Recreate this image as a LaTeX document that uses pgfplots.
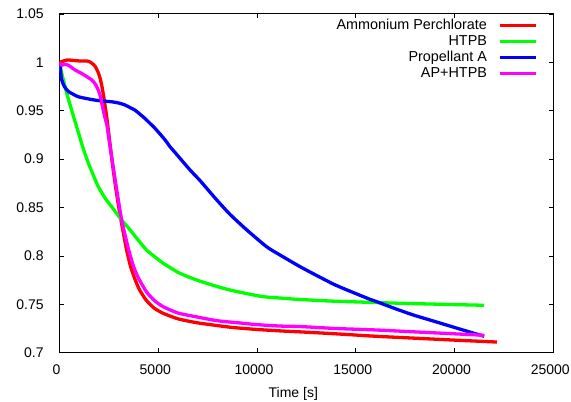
\documentclass[border=0pt]{standalone}
\usepackage{pgfplots}
\pgfplotsset{compat=1.18}
\usepackage{fontspec}
\setmainfont{Liberation Sans}
\begin{document}
\fontsize{14}{16}\selectfont
\begin{tikzpicture}
\begin{axis}[
  scale only axis,
  width=493.8pt, height=338.7pt,
  xmin=0, xmax=25000, ymin=0.7, ymax=1.05,
  xtick={0,5000,10000,15000,20000,25000},
  ytick={0.7,0.75,0.8,0.85,0.9,0.95,1,1.05},
  scaled x ticks=false, scaled y ticks=false,
  /pgf/number format/assume math mode=true,
  /pgf/number format/1000 sep={},
  yticklabel style={/pgf/number format/fixed, /pgf/number format/precision=2, xshift=-11pt, font=\fontsize{14}{16}\selectfont},
  xticklabel style={yshift=-7pt, xshift=-3pt, font=\fontsize{14}{16}\selectfont},
  tick align=inside,
  major tick length=4.5pt,
  axis line style={line width=1pt},
  every tick/.style={black, line width=0.8pt},
  xlabel={Time [s]},
  xlabel style={at={(axis description cs:0.4735,0)}, anchor=north, yshift=-30pt, font=\fontsize{14}{16}\selectfont},
  legend cell align=right,
  legend plot pos=right,
  legend image code/.code={\draw[#1] (0pt,0pt) -- (36pt,0pt);},
  legend style={draw=none, fill=none, inner sep=0pt, at={(rel axis cs:0.968,0.99)}, anchor=north east,
    font=\fontsize{14.4}{16}\selectfont, column sep=10pt, row sep=0pt,
    nodes={inner sep=1pt, text height=10.5pt, text depth=3.5pt}},
  every axis plot/.append style={line width=3.3pt, line join=round, smooth, tension=0.4},
]
\addplot[color={rgb,255:red,255;green,0;blue,0}] coordinates {
(0,1.000) (150,1.001) (400,1.0025) (700,1.002) (1000,1.0015) (1300,1.0015) (1500,1.001)
(1650,0.999) (1800,0.996) (1950,0.990) (2050,0.984) (2150,0.975) (2250,0.963) (2400,0.942)
(2550,0.917) (2700,0.892) (2850,0.870) (3050,0.844) (3250,0.822) (3400,0.806) (3600,0.789)
(3820,0.776) (4050,0.765) (4400,0.754) (4800,0.746) (5250,0.7407) (6000,0.735) (6943,0.731)
(8000,0.728) (8800,0.726) (10000,0.724) (11200,0.7225) (12200,0.7215)
(14000,0.7195) (16000,0.717) (18000,0.715) (20000,0.713) (22150,0.711)
};
\addlegendentry{Ammonium Perchlorate}
\addplot[color={rgb,255:red,0;green,255;blue,0}] coordinates {
(0,1.000) (100,0.990) (280,0.975) (450,0.962) (615,0.9507) (800,0.938) (950,0.928)
(1200,0.911) (1460,0.896) (1700,0.884) (1965,0.8715) (2300,0.860) (2640,0.8508)
(3150,0.837) (3570,0.827) (4000,0.816) (4413,0.806) (4830,0.799) (5253,0.7924)
(5675,0.787) (6098,0.782) (6943,0.7751) (7800,0.7695) (8629,0.7648) (9500,0.761)
(10314,0.7579) (11160,0.7565) (12000,0.7552) (13690,0.7534) (15000,0.7525) (16200,0.7517)
(18000,0.7507) (20000,0.7497) (21500,0.749)
};
\addlegendentry{HTPB}
\addplot[color={rgb,255:red,0;green,0;blue,255}] coordinates {
(0,1.000) (50,0.992) (110,0.982) (250,0.975) (445,0.970) (700,0.967) (950,0.9645)
(1400,0.9625) (1800,0.961) (2200,0.960) (2640,0.9593) (3000,0.958) (3315,0.956)
(3600,0.953) (3820,0.9507) (4100,0.946) (4330,0.942) (4580,0.937) (4830,0.932)
(5340,0.920) (5590,0.913) (5845,0.907) (6600,0.889) (7110,0.878) (7615,0.866)
(7955,0.858) (8630,0.843) (9474,0.827) (10486,0.8095) (11160,0.801) (12170,0.789)
(13000,0.780) (13856,0.771) (14535,0.765) (15714,0.7552) (16050,0.7528) (17000,0.7455)
(17905,0.739) (18800,0.7335) (19595,0.7286) (20500,0.723) (21500,0.717)
};
\addlegendentry{Propellant A}
\addplot[color={rgb,255:red,255;green,0;blue,255}] coordinates {
(0,1.000) (100,0.997) (250,0.998) (450,0.997) (800,0.992) (1120,0.9886) (1400,0.985)
(1625,0.982) (1800,0.978) (1950,0.972) (2080,0.964) (2200,0.952) (2300,0.943)
(2400,0.935) (2520,0.918) (2650,0.901) (2900,0.868) (3150,0.837) (3480,0.808)
(3750,0.789) (4000,0.777) (4400,0.763) (4800,0.754) (5253,0.7475) (6000,0.741)
(6943,0.737) (8000,0.733) (9000,0.731) (10000,0.729) (11200,0.7275)
(12200,0.727) (14000,0.725) (16000,0.7235) (18000,0.7215) (20000,0.7195) (21500,0.718)
};
\addlegendentry{AP+HTPB}
\end{axis}
\pgfresetboundingbox
\path (current axis.south west) ++(-59.5pt,-49.3pt) rectangle ++(571pt,402pt);
\end{tikzpicture}
\end{document}
